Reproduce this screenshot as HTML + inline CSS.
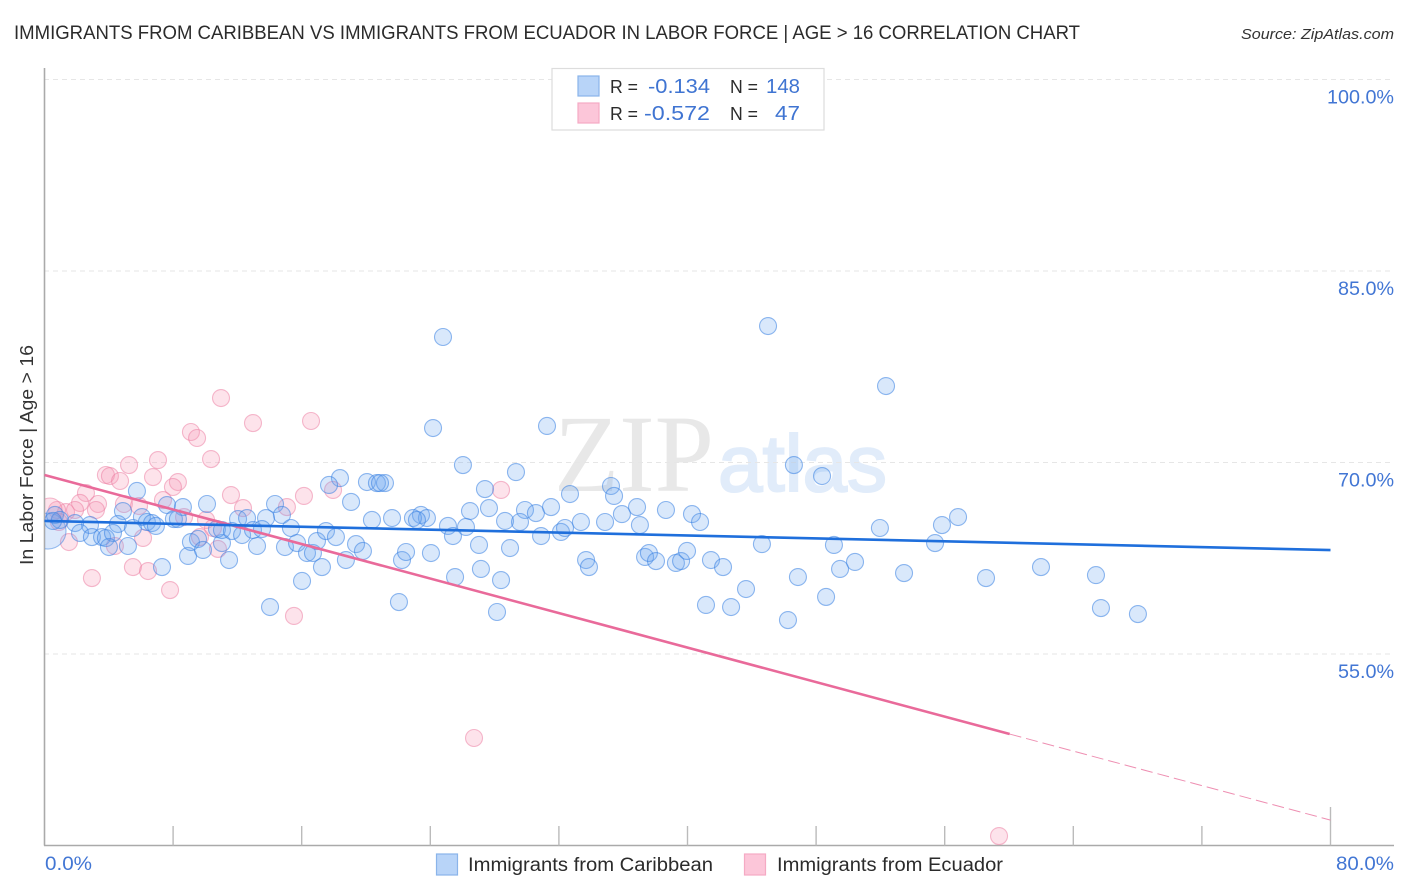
<!DOCTYPE html>
<html lang="en">
<head>
<meta charset="utf-8">
<title>Immigrants from Caribbean vs Immigrants from Ecuador in Labor Force</title>
<style>
html,body{margin:0;padding:0;background:#fff;}
body{width:1406px;height:892px;overflow:hidden;}
svg{display:block;font-family:"Liberation Sans",sans-serif;}
</style>
</head>
<body>
<svg id="chart" xmlns="http://www.w3.org/2000/svg" width="1406" height="892" viewBox="0 0 1406 892">
  <defs>
    <clipPath id="plot-clip"><rect x="45" y="60" width="1350" height="785"/></clipPath>
  </defs>
  <rect x="0" y="0" width="1406" height="892" fill="#ffffff"/>
  <text x="14" y="39" font-size="19.5" fill="#2b2b2b" textLength="1066" lengthAdjust="spacingAndGlyphs">IMMIGRANTS FROM CARIBBEAN VS IMMIGRANTS FROM ECUADOR IN LABOR FORCE | AGE &gt; 16 CORRELATION CHART</text>
  <text x="1394" y="39" font-size="15" font-style="italic" fill="#333333" text-anchor="end" textLength="153" lengthAdjust="spacingAndGlyphs">Source: ZipAtlas.com</text>

  <g>
    <text x="554" y="491" font-family="'Liberation Serif',serif" font-size="110" fill="#e8e8e8" textLength="160" lengthAdjust="spacingAndGlyphs">ZIP</text>
    <text x="718" y="491" font-size="80" fill="#e1ecfa" stroke="#e1ecfa" stroke-width="2" textLength="169" lengthAdjust="spacingAndGlyphs">atlas</text>
  </g>

  <g id="grid"></g>
  <g id="axes"></g>
  <g id="ecuador-points" clip-path="url(#plot-clip)"></g>
  <g id="caribbean-points" clip-path="url(#plot-clip)"></g>
  <g id="trends"></g>

  <text transform="translate(33,455) rotate(-90)" font-size="18" fill="#333333" text-anchor="middle" textLength="220" lengthAdjust="spacingAndGlyphs">In Labor Force | Age &gt; 16</text>

  <g>
    <rect x="552" y="68.5" width="272" height="61.5" fill="#ffffff" stroke="#dddddd" stroke-width="1.2"/>
    <rect x="578" y="76" width="21" height="20" fill="#b8d4f8" stroke="#8ab4ea" stroke-width="1.2"/>
    <rect x="578" y="103" width="21" height="20" fill="#fcc6d9" stroke="#f5aac4" stroke-width="1.2"/>
    <text x="610" y="93" font-size="18" fill="#2b2b2b" textLength="28" lengthAdjust="spacingAndGlyphs">R =</text>
    <text x="648" y="93" font-size="20.5" fill="#3f74d2" textLength="62" lengthAdjust="spacingAndGlyphs">-0.134</text>
    <text x="730" y="93" font-size="18" fill="#2b2b2b" textLength="28" lengthAdjust="spacingAndGlyphs">N =</text>
    <text x="766" y="93" font-size="20.5" fill="#3f74d2" textLength="34" lengthAdjust="spacingAndGlyphs">148</text>
    <text x="610" y="120" font-size="18" fill="#2b2b2b" textLength="28" lengthAdjust="spacingAndGlyphs">R =</text>
    <text x="644" y="120" font-size="20.5" fill="#3f74d2" textLength="66" lengthAdjust="spacingAndGlyphs">-0.572</text>
    <text x="730" y="120" font-size="18" fill="#2b2b2b" textLength="28" lengthAdjust="spacingAndGlyphs">N =</text>
    <text x="775" y="120" font-size="20.5" fill="#3f74d2" textLength="25" lengthAdjust="spacingAndGlyphs">47</text>
  </g>

  <g>
    <rect x="436.5" y="854" width="21" height="21" fill="#b8d4f8" stroke="#8ab4ea" stroke-width="1.2"/>
    <text x="468" y="871" font-size="19" fill="#2b2b2b" textLength="245" lengthAdjust="spacingAndGlyphs">Immigrants from Caribbean</text>
    <rect x="744.5" y="854" width="21" height="21" fill="#fcc6d9" stroke="#f5aac4" stroke-width="1.2"/>
    <text x="777" y="871" font-size="19" fill="#2b2b2b" textLength="226" lengthAdjust="spacingAndGlyphs">Immigrants from Ecuador</text>
  </g>
</svg>
<script>
const yTicks = [100, 85, 70, 55];
const yTickLabels = ["100.0%", "85.0%", "70.0%", "55.0%"];
const xTicks = [0, 8, 16, 24, 32, 40, 48, 56, 64, 72, 80];
const xEndLabels = ["0.0%", "80.0%"];

const caribbeanX = [24.79,45.01,52.35,24.17,31.26,26.03,29.33,46.62,48.37,18.38,17.70,20.06,20.68,21.18,20.87,27.40,35.24,32.69,35.43,5.75,10.11,14.34,19.07,27.65,29.89,30.57,31.51,36.86,38.66,40.28,40.78,35.92,37.04,26.47,23.42,23.79,22.92,23.17,21.62,20.37,14.77,13.78,12.04,12.60,7.62,8.61,4.88,6.06,6.37,6.69,6.93,8.05,8.30,4.57,5.50,2.83,1.90,0.65,0.96,0.53,2.21,2.95,3.58,3.82,4.26,4.01,5.19,7.31,8.93,9.11,9.55,9.86,11.04,11.48,10.73,11.04,11.66,12.29,12.97,13.22,13.53,15.33,14.96,15.71,16.02,14.03,16.33,16.70,16.95,17.26,17.51,18.13,18.75,19.38,19.81,22.05,22.24,22.49,24.04,25.10,25.41,26.22,27.03,27.15,25.54,28.40,28.15,28.65,29.58,30.89,28.96,32.13,32.38,33.37,34.87,33.69,33.87,37.36,37.60,38.04,39.28,39.60,39.97,41.46,42.21,43.64,41.15,42.71,44.63,46.25,46.87,48.62,49.11,49.49,50.42,51.97,53.47,55.40,55.83,56.83,58.57,61.99,65.41,65.72,68.02];
const caribbeanY = [79.83,80.69,75.99,72.70,72.86,69.80,69.25,69.80,68.94,68.78,68.24,68.47,68.39,68.39,68.39,67.92,68.16,67.53,67.38,67.77,66.75,66.75,66.91,66.43,66.28,66.04,66.51,66.51,66.28,65.96,65.34,65.96,65.10,66.20,65.89,65.65,65.65,65.50,65.65,65.50,65.89,65.65,65.57,65.65,66.67,66.51,66.20,65.73,65.34,65.26,65.03,65.57,65.57,65.18,64.87,65.10,65.26,65.89,65.50,65.42,64.48,64.16,64.16,64.08,64.48,63.38,63.46,61.81,62.68,63.77,64.01,63.15,63.69,62.36,64.79,64.71,64.63,64.32,64.71,63.46,64.79,64.87,63.38,63.69,60.72,58.68,62.91,62.91,63.85,61.81,64.63,64.16,62.36,63.61,63.07,59.07,62.36,62.99,62.91,65.03,64.24,64.95,63.54,61.66,61.03,60.79,58.29,65.42,65.34,64.24,63.30,64.56,64.87,65.34,65.34,62.36,61.81,62.60,62.91,62.28,62.13,62.28,63.07,62.36,61.81,60.09,58.84,58.68,63.61,57.66,61.03,59.47,63.54,61.66,62.21,64.87,61.34,63.69,65.10,65.73,60.95,61.81,61.18,58.60,58.13];
const caribbeanClusterX = [0.22];
const caribbeanClusterY = [64.63];

const ecuadorX = [10.98,12.97,16.58,9.11,9.49,10.36,7.06,5.26,3.82,4.07,6.75,8.30,7.99,4.70,2.58,3.33,7.37,11.60,16.14,17.95,28.40,4.94,5.88,2.21,3.20,12.35,15.08,1.34,0.78,1.90,10.05,10.48,8.68,0.90,1.52,4.38,6.13,9.67,10.79,2.95,5.50,6.44,7.81,15.52,26.72,59.38];
const ecuadorY = [75.05,73.09,73.25,72.39,71.92,70.27,70.19,69.80,69.02,68.94,68.86,68.47,68.08,68.55,67.61,66.75,67.06,67.45,67.38,67.85,67.85,66.75,66.59,66.83,66.28,66.43,66.51,66.12,66.28,66.28,65.50,64.87,65.73,65.34,63.77,63.46,64.09,64.16,63.23,60.95,61.81,61.50,60.01,57.98,48.42,40.74];
const ecuadorClusterX = [0.34];
const ecuadorClusterY = [66.28];

const caribbeanTrendX = [0, 80];
const caribbeanTrendY = [65.42, 63.14];
const ecuadorTrendX = [0, 60.04];
const ecuadorTrendY = [69.02, 48.73];
const ecuadorExtensionX = [60.04, 80];
const ecuadorExtensionY = [48.73, 41.99];

const NS = "http://www.w3.org/2000/svg";
function sx(v) { return 44.5 + v * (1286 / 80); }
function sy(v) { return 79.5 + (100 - v) * (191.5 / 15); }
function make(tag, attrs, parent) {
  const el = document.createElementNS(NS, tag);
  for (const k in attrs) el.setAttribute(k, attrs[k]);
  parent.appendChild(el);
  return el;
}

const grid = document.getElementById("grid");
const axes = document.getElementById("axes");

yTicks.forEach(function (t, i) {
  const line = make("line", {x1: 44, x2: 1394, y1: sy(t), y2: sy(t), stroke: "#e6e6e6", "stroke-width": 1.1, "stroke-dasharray": "5 4"}, grid);
  
  
  const label = make("text", {x: 1394, y: sy(t) + 24, "font-size": 19, fill: "#4276d4", "text-anchor": "end", textLength: yTickLabels[i].length > 5 ? 67 : 56, lengthAdjust: "spacingAndGlyphs"}, axes);
  label.textContent = yTickLabels[i];
  
  
});

const yAxis = make("line", {x1: 44.5, x2: 44.5, y1: 68, y2: 845.5, stroke: "#aaaaaa", "stroke-width": 1.6}, axes);


const xAxis = make("line", {x1: 44, x2: 1394, y1: 845.5, y2: 845.5, stroke: "#aaaaaa", "stroke-width": 1.6}, axes);



xTicks.forEach(function (t, i) {
  if (i === 0) return;
  const top = i === xTicks.length - 1 ? 807 : 826;
  const tick = make("line", {x1: sx(t), x2: sx(t), y1: top, y2: 845.5, stroke: "#bbbbbb", "stroke-width": 1.4}, axes);
  
  
});

const xStart = make("text", {x: 45, y: 870, "font-size": 19, fill: "#4276d4", textLength: 47, lengthAdjust: "spacingAndGlyphs"}, axes);
xStart.textContent = xEndLabels[0];


const xEnd = make("text", {x: 1394, y: 870, "font-size": 19, fill: "#4276d4", "text-anchor": "end", textLength: 58, lengthAdjust: "spacingAndGlyphs"}, axes);
xEnd.textContent = xEndLabels[1];



const ecuadorGroup = document.getElementById("ecuador-points");
ecuadorX.forEach(function (x, i) {
  const dot = make("circle", {cx: sx(x), cy: sy(ecuadorY[i]), r: 8.5, fill: "rgba(246,150,182,0.27)", stroke: "rgba(236,120,158,0.5)", "stroke-width": 1.1}, ecuadorGroup);
  
  
});
ecuadorClusterX.forEach(function (x, i) {
  const dot = make("circle", {cx: sx(x), cy: sy(ecuadorClusterY[i]), r: 12, fill: "rgba(246,150,182,0.27)", stroke: "rgba(236,120,158,0.5)", "stroke-width": 1.1}, ecuadorGroup);
  
  
});

const caribbeanGroup = document.getElementById("caribbean-points");
caribbeanClusterX.forEach(function (x, i) {
  const dot = make("circle", {cx: sx(x), cy: sy(caribbeanClusterY[i]), r: 18, fill: "rgba(110,165,240,0.25)", stroke: "rgba(60,130,225,0.5)", "stroke-width": 1.1}, caribbeanGroup);
  
  
});
caribbeanX.forEach(function (x, i) {
  const dot = make("circle", {cx: sx(x), cy: sy(caribbeanY[i]), r: 8.5, fill: "rgba(110,165,240,0.26)", stroke: "rgba(55,128,225,0.55)", "stroke-width": 1.1}, caribbeanGroup);
  
  
});

const trends = document.getElementById("trends");
const ecuadorExt = make("line", {x1: sx(ecuadorExtensionX[0]), y1: sy(ecuadorExtensionY[0]), x2: sx(ecuadorExtensionX[1]), y2: sy(ecuadorExtensionY[1]), stroke: "#ee8fb2", "stroke-width": 1, "stroke-dasharray": "12 5"}, trends);


const ecuadorTrend = make("line", {x1: sx(ecuadorTrendX[0]), y1: sy(ecuadorTrendY[0]), x2: sx(ecuadorTrendX[1]), y2: sy(ecuadorTrendY[1]), stroke: "#e96a9a", "stroke-width": 2.6}, trends);


const caribbeanTrend = make("line", {x1: sx(caribbeanTrendX[0]), y1: sy(caribbeanTrendY[0]), x2: sx(caribbeanTrendX[1]), y2: sy(caribbeanTrendY[1]), stroke: "#1f6fdc", "stroke-width": 2.6}, trends);


</script>
</body>
</html>
